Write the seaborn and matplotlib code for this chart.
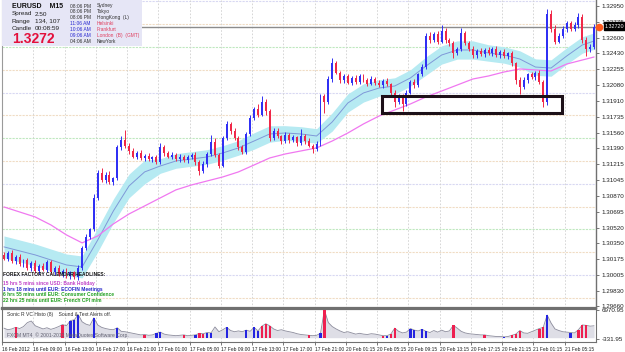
import numpy as np
import matplotlib
matplotlib.use("Agg")
import matplotlib.pyplot as plt
import seaborn as sns
from matplotlib.patches import Rectangle

# ---- data (30 min bars, EURUSD) ----
first_open = 1.3022
close = [
    1.3018, 1.3024, 1.3015, 1.3020, 1.3012, 1.3016, 1.3008, 1.3013, 1.3004, 1.3010,  # 0-9
    1.3006, 1.3014, 1.3003, 1.3008, 1.3001, 1.3005, 1.2999, 1.3003, 1.2998,          # 10-18
    1.3008, 1.3030, 1.3042, 1.3050, 1.3085, 1.3112, 1.3104, 1.3110, 1.3102, 1.3106,  # 19-28
    1.3140, 1.3148, 1.3142, 1.3136,                                                  # 29-32
    1.3130, 1.3134, 1.3128, 1.3131, 1.3127, 1.3129, 1.3124, 1.3140, 1.3134, 1.3130,  # 33-42
    1.3132, 1.3127, 1.3130, 1.3126, 1.3129, 1.3132, 1.3124, 1.3114,                  # 43-50
    1.3122, 1.3133, 1.3146, 1.3132, 1.3120, 1.3150, 1.3166, 1.3158, 1.3150, 1.3140,  # 51-60
    1.3135, 1.3155, 1.3172, 1.3182, 1.3176, 1.3190, 1.3180, 1.3150, 1.3158,          # 61-69
    1.3152, 1.3147, 1.3154, 1.3148, 1.3151, 1.3145, 1.3153, 1.3147, 1.3142, 1.3138,  # 70-79
    1.3144,                                                                          # 80
    1.3196, 1.3190, 1.3215, 1.3232, 1.3222, 1.3214,                                  # 81-86
    1.3218, 1.3211, 1.3216, 1.3212, 1.3218, 1.3214, 1.3210, 1.3215, 1.3211, 1.3208,  # 87-96
    1.3213, 1.3209, 1.3200,                                                          # 97-99
    1.3190, 1.3196, 1.3188, 1.3200, 1.3212, 1.3208, 1.3220, 1.3228,                  # 100-107
    1.3262, 1.3258, 1.3264, 1.3256, 1.3268, 1.3258, 1.3254, 1.3244, 1.3248, 1.3265,  # 108-117
    1.3255, 1.3248, 1.3241,                                                          # 118-120
    1.3246, 1.3242, 1.3247, 1.3243, 1.3248, 1.3241, 1.3245, 1.3240, 1.3243, 1.3232,  # 121-130
    1.3214, 1.3206, 1.3214, 1.3220, 1.3217, 1.3222, 1.3212, 1.3190,                  # 131-138
    1.3286, 1.3270, 1.3256, 1.3262, 1.3270, 1.3276, 1.3270, 1.3274, 1.3283, 1.3258,  # 139-148
    1.3248, 1.3250, 1.3272,                                                          # 149-151
]
# wick lengths in pips above / below the body
up_pips = [
    3, 2, 3, 2, 3, 2, 3, 2, 4, 2, 3, 2, 3, 2, 3, 2, 3, 2, 2,
    3, 2, 3, 2, 4, 3, 5, 3, 4, 2,
    3, 4, 11, 3,
    3, 2, 3, 2, 3, 2, 3, 5, 3, 2, 3, 2, 3, 2, 3, 2, 3, 2,
    3, 2, 8, 4, 2, 3, 3, 2, 3, 2, 3, 2, 3, 2, 6, 6, 3, 2, 3,
    3, 2, 3, 2, 3, 2, 7, 2, 3, 2, 3,
    2, 3, 3, 6, 3, 2,
    2, 3, 2, 3, 2, 3, 2, 3, 2, 3, 2, 3, 2,
    3, 2, 3, 3, 2, 3, 2, 3,
    3, 4, 3, 4, 6, 3, 2, 3, 2, 6, 3, 2, 3,
    2, 3, 2, 3, 2, 3, 2, 3, 2, 3, 2, 3, 3, 2, 3, 2, 3, 2,
    6, 5, 4, 3, 3, 3, 3, 4, 4, 3, 3, 3, 3,
]
dn_pips = [
    2, 3, 2, 3, 2, 3, 2, 3, 2, 3, 2, 3, 2, 3, 2, 3, 2, 3, 2,
    3, 2, 3, 2, 2, 3, 2, 3, 2, 3,
    2, 3, 3, 3,
    2, 3, 2, 3, 2, 3, 2, 2, 3, 2, 3, 2, 3, 2, 3, 2, 3, 4,
    2, 3, 2, 3, 3, 2, 2, 3, 2, 3, 2, 2, 3, 2, 3, 2, 4, 3, 2,
    2, 3, 2, 3, 2, 3, 2, 3, 2, 4, 2,
    2, 12, 2, 3, 2, 3,
    3, 2, 3, 2, 3, 2, 3, 2, 3, 2, 3, 2, 4,
    6, 2, 8, 3, 2, 3, 2, 2,
    2, 3, 2, 3, 2, 3, 3, 6, 3, 2, 3, 2, 3,
    3, 2, 3, 2, 3, 2, 3, 2, 3, 3, 4, 7, 2, 3, 2, 3, 3, 6,
    3, 3, 3, 2, 2, 3, 2, 2, 3, 3, 8, 3, 2,
]
volume = [
    2400, 2000, 2200, 2600, 2300, 2800, 3800, 4200, 3000, 2600,
    2200, 2500, 2100, 2400, 2800, 3300, 3000, 4300, 4500, 5800,
    4000, 3400, 3100, 5000, 3200, 2600, 2300, 2100, 2000, 2500,
    1600, 1500, 1300, 1100, 900, 700, 800, 600, 700, 1100,
    1400, 900, 700, 600, 500, 600, 700, 500, 600, 700,
    1100, 1000, 1300, 1200, 2700, 1500, 2000, 2600, 1800, 1500,
    1700, 1500, 1900, 1600, 2600, 1700, 2900, 3500, 3000, 2200,
    1800, 2000, 1700, 1500, 1300, 1000, 800, 700, 600, 500,
    600, 1100, 6970, 3800, 2800, 2200, 1700, 1300, 1500, 1200,
    900, 1100, 900, 800, 1000, 900, 700, 500, 500, 900,
    2400, 1600, 1200, 1400, 2300, 1900, 1700, 2100, 1600, 1300,
    1800, 1400, 1900, 1500, 1700, 3100, 2400, 1600, 1200, 1000,
    900, 800, 700, 700, 500, 400, 300, 300, 200, 300,
    600, 900, 1800, 1200, 1100, 1500, 1900, 2300, 2600, 5700,
    3700, 2200, 1800, 1500, 1400, 1300, 1200, 2000, 3200, 3100,
    2900, 3000,
]
# bars highlighted by the VC histogram
vc_red = [3, 15, 36, 46, 50, 51, 66, 67, 68, 78, 82, 97, 99, 100, 115, 123,
          130, 131, 132, 137, 138, 147, 148, 149]
vc_blue = [17, 18, 19, 23, 29, 39, 40, 49, 52, 53, 57, 62, 64, 65, 81, 98,
           104, 105, 107, 108, 128, 139, 145]

# indicator lines, sampled every 4 bars
ma_idx = [0, 4, 8, 12, 16, 20, 24, 28, 32, 36, 40, 44, 48, 52, 56, 60, 64, 68, 72, 76,
          80, 84, 88, 92, 96, 100, 104, 108, 112, 116, 120, 124, 128, 132, 136, 140, 144, 148, 151]
dragon = [1.30309, 1.30265, 1.30221, 1.30166, 1.30111, 1.30089, 1.30385, 1.30703, 1.30977, 1.31131,
          1.31196, 1.31251, 1.31273, 1.31295, 1.31339, 1.31394, 1.31470, 1.31547, 1.31558, 1.31547,
          1.31525, 1.31679, 1.31887, 1.31997, 1.32051, 1.32073, 1.32161, 1.32292, 1.32413, 1.32468,
          1.32468, 1.32435, 1.32413, 1.32369, 1.32281, 1.32270, 1.32402, 1.32523, 1.32566]
dragon_hw = [0.0012, 0.0012, 0.0012, 0.0012, 0.0012, 0.0012, 0.0013, 0.0013, 0.0013, 0.0013,
             0.0008, 0.0008, 0.0008, 0.0008, 0.0008, 0.0008, 0.0009, 0.0009, 0.0008, 0.0008,
             0.0008, 0.0010, 0.0010, 0.0010, 0.0009, 0.0009, 0.0009, 0.0010, 0.0010, 0.0010,
             0.0010, 0.0009, 0.0009, 0.0009, 0.0009, 0.0009, 0.0009, 0.0009, 0.0009]
slow_ma = [1.30747, 1.30692, 1.30637, 1.30550, 1.30440, 1.30353, 1.30429, 1.30561, 1.30670, 1.30758,
           1.30846, 1.30934, 1.30988, 1.31032, 1.31076, 1.31131, 1.31207, 1.31284, 1.31328, 1.31361,
           1.31394, 1.31470, 1.31558, 1.31657, 1.31744, 1.31810, 1.31876, 1.31953, 1.32018, 1.32084,
           1.32150, 1.32183, 1.32227, 1.32260, 1.32249, 1.32238, 1.32314, 1.32358, 1.32391]

price_ticks = [1.32950, 1.32775, 1.32600, 1.32430, 1.32255, 1.32080, 1.31910, 1.31735, 1.31560, 1.31390,
               1.31215, 1.31045, 1.30870, 1.30695, 1.30520, 1.30350, 1.30175, 1.30005, 1.29830, 1.29660]
time_labels = ["16 Feb 2012", "16 Feb 09:00", "16 Feb 13:00", "16 Feb 17:00", "16 Feb 21:00",
               "17 Feb 01:00", "17 Feb 05:00", "17 Feb 09:00", "17 Feb 13:00", "17 Feb 17:00",
               "17 Feb 21:00", "20 Feb 01:15", "20 Feb 05:15", "20 Feb 09:15", "20 Feb 13:15",
               "20 Feb 17:15", "20 Feb 21:15", "21 Feb 01:15", "21 Feb 05:15"]
level_prices = [1.3300, 1.3275, 1.3250, 1.3225, 1.3200, 1.3175, 1.3150, 1.3125, 1.3100,
                1.3075, 1.3050, 1.3025, 1.3000, 1.2975]
bid = 1.32720
box_bars = (96.7, 142.7)
box_prices = (1.3178, 1.3196)

clocks = [("08:06 PM", "Sydney"), ("08:06 PM", "Tokyo"), ("08:06 PM", "HongKong  (L)"),
          ("11:06 AM", "Helsinki"), ("10:06 AM", "Frankfurt"), ("09:06 AM", "London  (B)  (GMT)"),
          ("04:06 AM", "NewYork")]
headlines = ["15 hrs 5 mins since USD: Bank Holiday",
             "1 hrs 18 mins until EUR: ECOFIN Meetings",
             "6 hrs 55 mins until EUR: Consumer Confidence",
             "22 hrs 25 mins until EUR: French CPI m/m"]

# ---- prep ----
n = min(len(close), len(up_pips), len(dn_pips), len(volume))
close = np.array(close[:n])
opn = np.r_[first_open, close[:-1]]
hi = np.maximum(opn, close) + np.array(up_pips[:n]) * 0.0001
lo = np.minimum(opn, close) - np.array(dn_pips[:n]) * 0.0001
vol = np.array(volume[:n], dtype=float)
idx = np.arange(n)
bull = close >= opn
candle_col = np.where(bull, "#3030f4", "#f02848")

sns.set_theme(style="white")
plt.rcParams["font.family"] = ["Liberation Sans", "DejaVu Sans"]

W, H = 625, 352
fig = plt.figure(figsize=(W / 100, H / 100), dpi=100, facecolor="white")


def fx(x):
    return x / W


def fy(y):
    return 1 - y / H


ax = fig.add_axes([fx(2), fy(308), 594 / W, 308 / H])
ax2 = fig.add_axes([fx(2), fy(342), 594 / W, 33 / H])

# ---- main chart ----
level_cols = {0: "#d8d8f2", 1: "#f0dcc4", 2: "#bfe8bf", 3: "#f0dcc4"}
for k, p in enumerate(level_prices):
    ax.axhline(p, color=level_cols[k % 4], lw=0.8, ls=(0, (2, 1)), zorder=0)
for t in range(8, n, 8):
    ax.axvline(t - 0.5, color="#d0d0d0", lw=0.6, ls=(0, (2, 2)), zorder=0)
    ax2.axvline(t - 0.5, color="#d0d0d0", lw=0.6, ls=(0, (2, 2)), zorder=0)

d = np.array(dragon)
hw = np.array(dragon_hw)
ax.fill_between(ma_idx, d - hw, d + hw, color="#b6eaf2", lw=0, zorder=1)
sns.lineplot(x=ma_idx, y=dragon, ax=ax, color="#7f98d8", lw=0.7, zorder=2)
sns.lineplot(x=ma_idx, y=slow_ma, ax=ax, color="#f078f0", lw=0.9, zorder=2)

ax.vlines(idx, lo, hi, colors=candle_col, lw=0.7, zorder=3)
body = np.maximum(np.abs(close - opn), 0.00006)
ax.bar(idx, body, bottom=np.minimum(opn, close), width=0.5, color=candle_col, lw=0, zorder=4)

ax.axhline(bid, color="#8c8c8c", lw=1.0, zorder=2.5)
ax.add_patch(Rectangle((box_bars[0], box_prices[0]), box_bars[1] - box_bars[0],
                       box_prices[1] - box_prices[0], fill=False, ec="#1c1018", lw=2.2, zorder=6))

ax.set_xlim(-0.5, 151.5)
ax.set_ylim(1.29639, 1.33016)
ax.yaxis.tick_right()
ax.set_yticks(price_ticks)
ax.set_yticklabels([f"{p:.5f}" for p in price_ticks])
ax.tick_params(axis="y", right=True, length=2, width=0.6, color="#606060", pad=2,
               labelsize=4.5, labelcolor="#202020")
ax.set_xticks([])
ax.spines["top"].set_visible(False)
ax.spines["left"].set_color("#9a9a9a")
ax.spines["left"].set_linewidth(0.8)
ax.spines["right"].set_color("#707070")
ax.spines["right"].set_linewidth(1.0)
ax.spines["bottom"].set_color("#707070")
ax.spines["bottom"].set_linewidth(1.6)
ax.set_xlabel("")
ax.set_ylabel("")

# bid marker and price box
ax.plot([152.2], [bid], "o", color="#ff5a1e", ms=4.5, clip_on=False, zorder=7)
fig.text(fx(605), fy(26), f"{bid:.5f}", fontsize=3.9, color="white", va="center", ha="left",
         bbox=dict(boxstyle="square,pad=0.2", fc="black", ec="black"), zorder=8)

# ---- VC histogram panel ----
ax2.fill_between(idx, 0, vol, color="#dedee6", lw=0, zorder=1)
sns.lineplot(x=idx, y=vol, ax=ax2, color="#8c8c9c", lw=0.6, zorder=2)
ax2.bar(vc_red, vol[vc_red], width=0.6, color="#ee2050", lw=0, zorder=3)
ax2.bar(vc_blue, vol[vc_blue], width=0.6, color="#2424e0", lw=0, zorder=3)
ax2.set_xlim(-0.5, 151.5)
ax2.set_ylim(-1087, 7220)
ax2.yaxis.tick_right()
ax2.set_yticks([6970.95, -331.95])
ax2.set_yticklabels(["6970.95", "-331.95"])
ax2.tick_params(axis="y", right=True, length=2, width=0.6, color="#606060", pad=2,
                labelsize=4.5, labelcolor="#202020")
ax2.set_xticks([-0.5 + 8 * k for k in range(len(time_labels))])
ax2.set_xticklabels(time_labels, ha="left")
ax2.tick_params(axis="x", bottom=True, length=2, width=0.6, color="#606060", pad=1.5,
                labelsize=3.5, labelcolor="#202020")
for s in ax2.spines.values():
    s.set_color("#707070")
    s.set_linewidth(0.8)
ax2.spines["top"].set_linewidth(1.6)
ax2.set_xlabel("")
ax2.set_ylabel("")
ax2.text(0.008, 0.9, "Sonic R VC Histo (8)    Sound & Text Alerts off.", transform=ax2.transAxes,
         fontsize=3.6, color="#303030", va="top", ha="left", zorder=5)
ax2.text(0.008, 0.12, "FXCM MT4  \u00a9 2001-2012 MetaQuotes Software Corp.", transform=ax2.transAxes,
         fontsize=3.6, color="#606070", va="bottom", ha="left", zorder=5)

# ---- info box ----
fig.add_artist(Rectangle((fx(2), fy(46)), 140 / W, 46 / H, transform=fig.transFigure,
                         fc="#e6e6f6", ec="none", zorder=5))
fig.text(fx(12), fy(6), "EURUSD    M15", fontsize=5.0, weight="bold", color="#101010", va="center", zorder=6)
for y, lab, val in ((14, "Spread", "2.50"), (21, "Range", "134, 107"), (28, "Candle", "00:08:59")):
    fig.text(fx(12), fy(y), lab, fontsize=4.6, color="#202020", va="center", zorder=6)
    fig.text(fx(35), fy(y), val, fontsize=4.6, color="#202020", va="center", zorder=6)
fig.text(fx(12), fy(39), "1.3272", fontsize=10, weight="bold", color="#e3103c", va="center", zorder=6)
for k, (tm, city) in enumerate(clocks):
    yy = 6 + k * 5.85
    tcol = "#2a2ad0" if 3 <= k <= 5 else "#303030"
    ccol = "#e04060" if 3 <= k <= 5 else "#303030"
    fig.text(fx(70), fy(yy), tm, fontsize=3.5, color=tcol, va="center", zorder=6)
    fig.text(fx(97), fy(yy), city, fontsize=3.5, color=ccol, va="center", zorder=6)

# ---- calendar headlines ----
fig.text(fx(3), fy(275), "FOREX FACTORY CALENDAR HEADLINES:", fontsize=3.5, weight="bold",
         color="#101010", va="center", zorder=6)
for k, (txt, col) in enumerate(zip(headlines, ["#c040c8", "#2424c8", "#20a020", "#20a020"])):
    fig.text(fx(3), fy(283 + k * 6), txt, fontsize=3.5, weight="bold", color=col, va="center", zorder=6)

fig.savefig("out.png", dpi=100, facecolor="white")
